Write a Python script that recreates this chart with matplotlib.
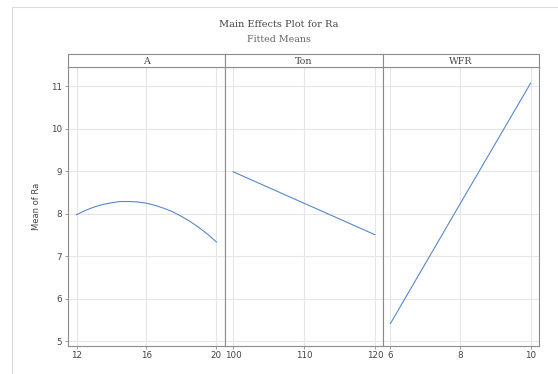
"""Main effects plot for Ra (fitted means), Minitab style."""

import matplotlib

matplotlib.use("Agg")
import matplotlib.pyplot as plt
from matplotlib.lines import Line2D

# fitted means
a_levels = [12, 12.5, 13, 13.5, 14, 14.5, 15, 15.5, 16, 16.5, 17, 17.5, 18, 18.5, 19, 19.5, 20]
a_means = [7.98, 8.08, 8.16, 8.22, 8.26, 8.29, 8.29, 8.28, 8.25, 8.20, 8.13, 8.05, 7.94, 7.82, 7.68, 7.52, 7.34]
ton_levels = [100, 110, 120]
ton_means = [8.99, 8.25, 7.51]
wfr_levels = [6, 8, 10]
wfr_means = [5.42, 8.25, 11.07]

factors = ["A", "Ton", "WFR"]
x_ticks = [[12, 16, 20], [100, 110, 120], [6, 8, 10]]
x_limits = [(11.49, 20.51), (98.9, 121.1), (5.78, 10.25)]
y_ticks = [5, 6, 7, 8, 9, 10, 11]
y_limits = (4.9, 11.46)

LINE_COLOR = "#5589cc"
SPINE_COLOR = "#8c8c8c"
GRID_COLOR = "#e6e6e6"
TEXT_COLOR = "#444444"

fig = plt.figure(figsize=(5.58, 3.74), dpi=100)
W, H = 558, 374

# light frame around the screenshot
fig.add_artist(Line2D([12 / W, 1], [1 - 7 / H, 1 - 7 / H], color="#dcdcdc", lw=0.8))
fig.add_artist(Line2D([12 / W, 12 / W], [0, 1 - 7 / H], color="#dcdcdc", lw=0.8))

edges = [67.6, 225.3, 382.7, 539.3]
ax_top, ax_bottom = 66.7, 345.7
strip_top = 54.3
series = [(a_levels, a_means), (ton_levels, ton_means), (wfr_levels, wfr_means)]

for i, name in enumerate(factors):
    left = edges[i] / W
    width = (edges[i + 1] - edges[i]) / W
    ax = fig.add_axes([left, 1 - ax_bottom / H, width, (ax_bottom - ax_top) / H])
    xs, ys = series[i]
    ax.plot(xs, ys, color=LINE_COLOR, lw=0.8)
    ax.set_xlim(*x_limits[i])
    ax.set_ylim(*y_limits)
    ax.set_xticks(x_ticks[i])
    ax.set_yticks(y_ticks)
    ax.grid(True, color=GRID_COLOR, lw=0.8)
    ax.set_axisbelow(True)
    for spine in ax.spines.values():
        spine.set_color(SPINE_COLOR)
        spine.set_linewidth(0.8)
    ax.tick_params(axis="x", length=2, width=0.6, color=SPINE_COLOR, labelsize=6.3,
                   labelcolor=TEXT_COLOR, pad=2)
    if i == 0:
        ax.tick_params(axis="y", length=2, width=0.6, color=SPINE_COLOR, labelsize=6.3,
                       labelcolor=TEXT_COLOR, pad=2)
        ax.set_ylabel("Mean of Ra", fontsize=6.0, color=TEXT_COLOR, labelpad=7)
    else:
        ax.tick_params(axis="y", left=False, labelleft=False)

    # strip header
    sax = fig.add_axes([left, 1 - ax_top / H, width, (ax_top - strip_top) / H])
    sax.set_xticks([])
    sax.set_yticks([])
    for spine in sax.spines.values():
        spine.set_color(SPINE_COLOR)
        spine.set_linewidth(0.8)
    sax.text(0.5, 0.45, name, ha="center", va="center", fontsize=6.8,
             family="DejaVu Serif", color=TEXT_COLOR, transform=sax.transAxes)

fig.text(0.5, 1 - 24.5 / H, "Main Effects Plot for Ra", ha="center", va="center",
         fontsize=7, family="DejaVu Serif", color=TEXT_COLOR)
fig.text(0.5, 1 - 39.5 / H, "Fitted Means", ha="center", va="center",
         fontsize=6.8, family="DejaVu Serif", color="#666666")

fig.savefig("out.png", dpi=100)
